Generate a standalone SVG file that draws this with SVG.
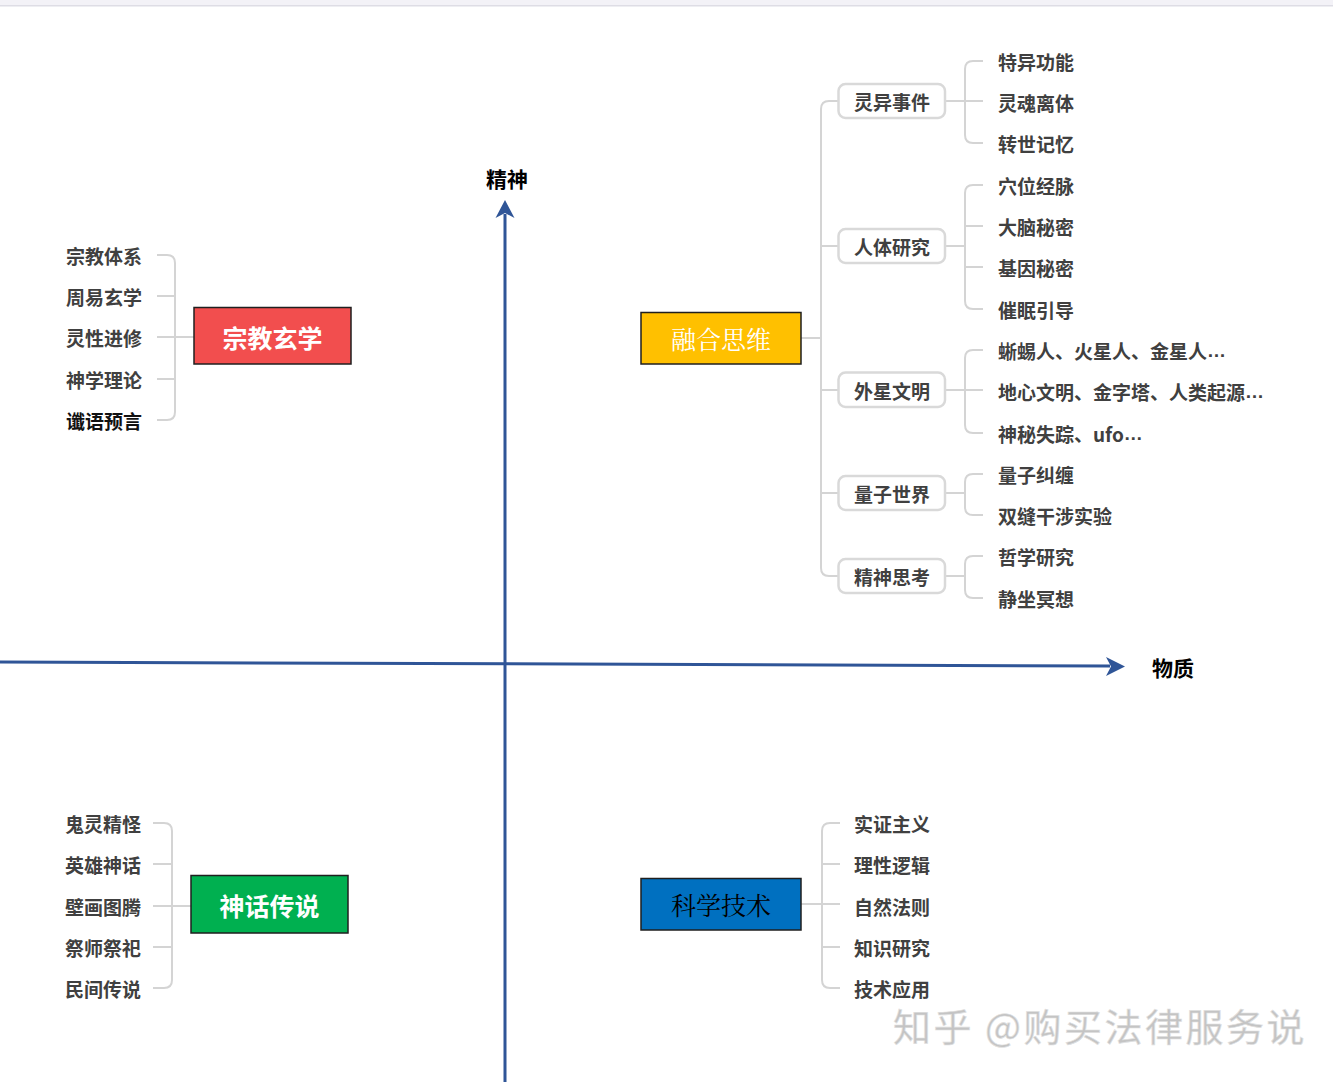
<svg xmlns="http://www.w3.org/2000/svg" width="1333" height="1082" viewBox="0 0 1333 1082">
<style>
.leaf{font-family:"Noto Sans CJK SC","Noto Sans",sans-serif;font-weight:bold;font-size:19px;fill:#404040;dominant-baseline:central}
.end{text-anchor:end}
.el{font-family:"Liberation Sans",Arial,sans-serif}
.sub{font-family:"Noto Sans CJK SC","Noto Sans",sans-serif;font-weight:bold;font-size:19px;fill:#404040;dominant-baseline:central;text-anchor:middle}
.subbox{fill:#fff;stroke:#d9d9d9;stroke-width:2.5}
.main{stroke:#1f1f1f;stroke-width:1.5}
.mt{font-family:"Noto Sans CJK SC","Noto Sans",sans-serif;font-weight:bold;font-size:25px;dominant-baseline:central;text-anchor:middle}
.ms{font-family:"Noto Serif CJK SC","Noto Sans CJK SC",serif;font-weight:normal;font-size:25px;dominant-baseline:central;text-anchor:middle}
.br{fill:none;stroke:#d4d4d4;stroke-width:2}
.axis{stroke:#2f5597;stroke-width:3;fill:none}
.ah{fill:#2f5597}
.al{font-family:"Noto Sans CJK SC","Noto Sans",sans-serif;font-weight:bold;font-size:21px;fill:#000;dominant-baseline:central;text-anchor:middle}
</style>
<rect x="0" y="0" width="1333" height="1082" fill="#fff"/>
<rect x="0" y="0" width="1333" height="5" fill="#f3f2f7"/>
<rect x="0" y="5" width="1333" height="1.5" fill="#dedde5"/>

<g id="connectors">
  <path class="axis" d="M0,662 L1110,666"/>
  <polygon class="ah" points="1125,666.5 1106,657 1111,666.5 1106,676"/>
  <path class="axis" d="M505,1082 L505,214"/>
  <polygon class="ah" points="505,200 495.5,218 505,213 514.5,218"/>
  <path class="br" d="M157,255 H167 Q175,255 175,263 V412 Q175,420 167,420 H157 M157,296 H175 M157,337 H194 M157,379 H175"/>
  <path class="br" d="M153,823 H164 Q172,823 172,831 V980 Q172,988 164,988 H153 M153,864 H172 M153,906 H191 M153,947 H172"/>
  <path class="br" d="M840,823 H830 Q822,823 822,831 V980 Q822,988 830,988 H840 M840,864 H822 M801,904 H840 M840,947 H822"/>
  <path class="br" d="M838,101 H829 Q821,101 821,109 V568 Q821,576 829,576 H838 M838,246 H821 M838,390 H821 M838,493 H821 M801,338 H821"/>
  <path class="br" d="M983,61 H973 Q965,61 965,69 V135 Q965,143 973,143 H983 M945,101 H983"/>
  <path class="br" d="M983,185 H973 Q965,185 965,193 V301 Q965,309 973,309 H983 M945,246 H965 M983,226 H965 M983,267 H965"/>
  <path class="br" d="M983,350 H973 Q965,350 965,358 V425 Q965,433 973,433 H983 M945,390 H983"/>
  <path class="br" d="M983,474 H973 Q965,474 965,482 V507 Q965,515 973,515 H983 M945,493 H965"/>
  <path class="br" d="M983,556 H973 Q965,556 965,564 V590 Q965,598 973,598 H983 M945,576 H965"/>
</g>

<g id="axis-labels">
  <text class="al" x="507" y="178">精神</text>
  <text class="al" x="1173" y="667">物质</text>
</g>

<g id="node-zongjiao">
  <rect class="main" x="194" y="307.5" width="157" height="56.5" fill="#f24e4e"/>
  <text class="mt" x="272.5" y="337" fill="#fff">宗教玄学</text>
</g>
<g id="node-zongjiao-leaves">
  <text class="leaf end" x="142" y="255">宗教体系</text>
  <text class="leaf end" x="142" y="296">周易玄学</text>
  <text class="leaf end" x="142" y="337">灵性进修</text>
  <text class="leaf end" x="142" y="379">神学理论</text>
  <text class="leaf end" x="142" y="420" style="fill:#111">谶语预言</text>
</g>

<g id="node-shenhua">
  <rect class="main" x="191" y="875.5" width="157" height="57.5" fill="#00b050"/>
  <text class="mt" x="269.5" y="905" fill="#fff">神话传说</text>
</g>
<g id="node-shenhua-leaves">
  <text class="leaf end" x="141" y="823">鬼灵精怪</text>
  <text class="leaf end" x="141" y="864">英雄神话</text>
  <text class="leaf end" x="141" y="906">壁画图腾</text>
  <text class="leaf end" x="141" y="947">祭师祭祀</text>
  <text class="leaf end" x="141" y="988">民间传说</text>
</g>

<g id="node-kexue">
  <rect class="main" x="641" y="878.5" width="160" height="51.5" fill="#0070c0"/>
  <text class="ms" x="721" y="904" fill="#000">科学技术</text>
</g>
<g id="node-kexue-leaves">
  <text class="leaf" x="854" y="823">实证主义</text>
  <text class="leaf" x="854" y="864">理性逻辑</text>
  <text class="leaf" x="854" y="906">自然法则</text>
  <text class="leaf" x="854" y="947">知识研究</text>
  <text class="leaf" x="854" y="988">技术应用</text>
</g>

<g id="node-ronghe">
  <rect class="main" x="641" y="312.5" width="160" height="51.5" fill="#ffc000"/>
  <text class="ms" x="721" y="338" fill="#fff">融合思维</text>
</g>

<g id="node-lingyi">
  <rect class="subbox" x="838.5" y="84" width="106.5" height="34" rx="7"/>
  <text class="sub" x="892" y="101">灵异事件</text>
  <text class="leaf" x="998" y="61">特异功能</text>
  <text class="leaf" x="998" y="102">灵魂离体</text>
  <text class="leaf" x="998" y="143">转世记忆</text>
</g>
<g id="node-renti">
  <rect class="subbox" x="838.5" y="229" width="106.5" height="34" rx="7"/>
  <text class="sub" x="892" y="246">人体研究</text>
  <text class="leaf" x="998" y="185">穴位经脉</text>
  <text class="leaf" x="998" y="226">大脑秘密</text>
  <text class="leaf" x="998" y="267">基因秘密</text>
  <text class="leaf" x="998" y="309">催眠引导</text>
</g>
<g id="node-waixing">
  <rect class="subbox" x="838.5" y="372.5" width="106.5" height="34.5" rx="7"/>
  <text class="sub" x="892" y="390">外星文明</text>
  <text class="leaf" x="998" y="350">蜥蜴人、火星人、金星人<tspan class="el">…</tspan></text>
  <text class="leaf" x="998" y="391">地心文明、金字塔、人类起源<tspan class="el">…</tspan></text>
  <text class="leaf" x="998" y="433">神秘失踪、ufo<tspan class="el">…</tspan></text>
</g>
<g id="node-liangzi">
  <rect class="subbox" x="838.5" y="476" width="106.5" height="34" rx="7"/>
  <text class="sub" x="892" y="493">量子世界</text>
  <text class="leaf" x="998" y="474">量子纠缠</text>
  <text class="leaf" x="998" y="515">双缝干涉实验</text>
</g>
<g id="node-jingshen">
  <rect class="subbox" x="838.5" y="559" width="106.5" height="34" rx="7"/>
  <text class="sub" x="892" y="576">精神思考</text>
  <text class="leaf" x="998" y="556">哲学研究</text>
  <text class="leaf" x="998" y="598">静坐冥想</text>
</g>

<g id="watermark">
  <text x="893" y="1041" style="font-family:'Noto Sans CJK SC','Noto Sans',sans-serif;font-size:38px;letter-spacing:2.5px;fill:#c4c4c4;stroke:#e2e2e2;stroke-width:0.6">知乎 @购买法律服务说</text>
</g>
</svg>
